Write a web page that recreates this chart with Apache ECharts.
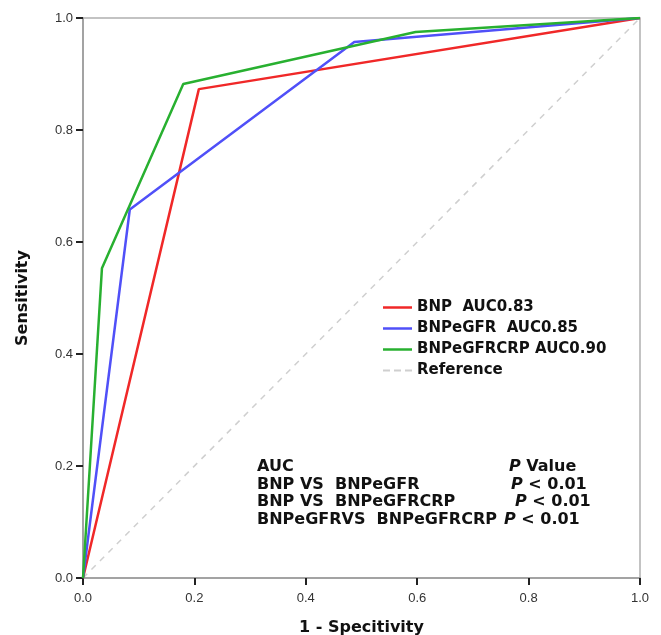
<!DOCTYPE html>
<html>
<head>
<meta charset="utf-8">
<script src="https://cdn.jsdelivr.net/npm/echarts@6/dist/echarts.min.js"></script>
<style>
  html, body { margin: 0; padding: 0; background: #fff; }
  #main { width: 661px; height: 635px; }
</style>
</head>
<body>
<div id="main"></div>
<script>
// ROC points (1 - specificity, sensitivity)
var bnpX = [0, 0.208, 1];
var bnpY = [0, 0.873, 1];
var egfrX = [0, 0.084, 0.487, 1];
var egfrY = [0, 0.658, 0.957, 1];
var crpX = [0, 0.034, 0.18, 0.597, 1];
var crpY = [0, 0.553, 0.882, 0.975, 1];
var refX = [0, 1];
var refY = [0, 1];

var seriesNames = ['BNP  AUC0.83', 'BNPeGFR  AUC0.85', 'BNPeGFRCRP AUC0.90', 'Reference'];

var compHeader = ['AUC', 'Value'];
var compRows = ['BNP VS  BNPeGFR', 'BNP VS  BNPeGFRCRP', 'BNPeGFRVS  BNPeGFRCRP'];
var compP = ['< 0.01', '< 0.01', '< 0.01'];

function pairs(xs, ys) {
	var out = [];
	for (var i = 0; i < xs.length; i++) out.push([xs[i], ys[i]]);
	return out;
}

var chart = echarts.init(document.getElementById('main'));

var wideFont = '"DejaVu Sans", "Liberation Sans", sans-serif';
var annFont = 'bold 16px ' + wideFont;
var italicP = { i: { fontStyle: 'italic', fontWeight: 'bold', fontSize: 16, fontFamily: 'DejaVu Sans' } };

// annotation block (comparison of AUCs)
var rowY = [468, 485.5, 503, 520.5];
var pColX = [509, 511, 515, 504];
var textBits = [];
var leftCol = [compHeader[0]].concat(compRows);
var rightCol = ['{i|P} ' + compHeader[1]];
for (var k = 0; k < compP.length; k++) rightCol.push('{i|P} ' + compP[k]);

for (var r = 0; r < leftCol.length; r++) {
	textBits.push({
		type: 'text', left: 257, top: rowY[r] - 9,
		style: { text: leftCol[r], font: annFont, fill: '#111' }
	});
	textBits.push({
		type: 'text', left: pColX[r], top: rowY[r] - 9,
		style: { text: rightCol[r], font: annFont, fill: '#111', rich: italicP }
	});
}

var solidIcon = 'path://M0,0h29v2.5h-29z';
var dashIcon = 'path://M0,0h7v2h-7zM11,0h7v2h-7zM22,0h7v2h-7z';

var option = {
	animation: false,
	backgroundColor: '#fff',
	grid: {
		left: 83, right: 21, top: 18, bottom: 57,
		outerBoundsMode: 'none',
		show: true, borderColor: '#b0b0b0', borderWidth: 1.5
	},
	legend: {
		orient: 'vertical',
		left: 378, top: 295,
		itemWidth: 29, itemHeight: 14, itemGap: 6,
		data: [
			{ name: seriesNames[0], icon: solidIcon },
			{ name: seriesNames[1], icon: solidIcon },
			{ name: seriesNames[2], icon: solidIcon },
			{ name: seriesNames[3], icon: dashIcon }
		],
		textStyle: { fontFamily: wideFont, fontWeight: 'bold', fontSize: 15, color: '#111' }
	},
	xAxis: {
		type: 'value', min: 0, max: 1, interval: 0.2,
		name: '1 - Specitivity', nameLocation: 'middle', nameGap: 42,
		nameTextStyle: { fontFamily: wideFont, fontWeight: 'bold', fontSize: 16, color: '#111' },
		axisLine: { show: true, lineStyle: { color: '#999', width: 1.5 } },
		axisTick: { show: true, length: 7, lineStyle: { color: '#222', width: 2 } },
		axisLabel: { margin: 14, fontFamily: 'Liberation Sans', fontSize: 13, color: '#333',
			formatter: function (v) { return v.toFixed(1); } },
		splitLine: { show: false }
	},
	yAxis: {
		type: 'value', min: 0, max: 1, interval: 0.2,
		name: 'Sensitivity', nameLocation: 'middle', nameGap: 52,
		nameTextStyle: { fontFamily: wideFont, fontWeight: 'bold', fontSize: 16, color: '#111' },
		axisLine: { show: true, lineStyle: { color: '#999', width: 1.5 } },
		axisTick: { show: true, length: 7, lineStyle: { color: '#222', width: 2 } },
		axisLabel: { margin: 10, fontFamily: 'Liberation Sans', fontSize: 13, color: '#333',
			formatter: function (v) { return v.toFixed(1); } },
		splitLine: { show: false }
	},
	series: [
		{
			name: seriesNames[3], type: 'line', data: pairs(refX, refY), symbol: 'none',
			lineStyle: { color: '#cfcfcf', width: 1.5, type: [6, 6] }, itemStyle: { color: '#cfcfcf' }
		},
		{
			name: seriesNames[0], type: 'line', data: pairs(bnpX, bnpY), symbol: 'none',
			lineStyle: { color: '#f02828', width: 2.5 }, itemStyle: { color: '#f02828' }
		},
		{
			name: seriesNames[1], type: 'line', data: pairs(egfrX, egfrY), symbol: 'none',
			lineStyle: { color: '#5050f8', width: 2.5 }, itemStyle: { color: '#5050f8' }
		},
		{
			name: seriesNames[2], type: 'line', data: pairs(crpX, crpY), symbol: 'none',
			lineStyle: { color: '#28b030', width: 2.5 }, itemStyle: { color: '#28b030' }
		}
	],
	graphic: textBits
};

chart.setOption(option);
</script>
</body>
</html>
